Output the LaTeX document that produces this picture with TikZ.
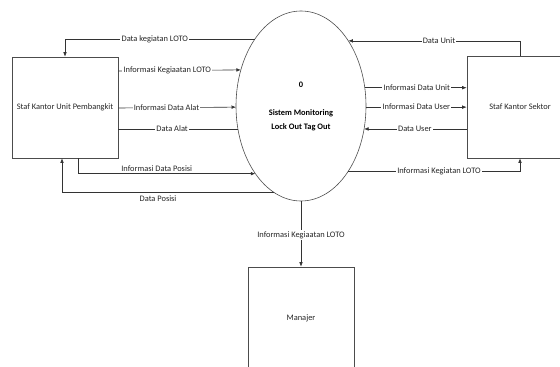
\documentclass[tikz,border=0pt]{standalone}
\usepackage{fontspec}
\setmainfont{Carlito}
\usetikzlibrary{shapes.geometric,arrows.meta}
\begin{document}
\begin{tikzpicture}[x=1pt,y=-1pt,
  ln/.style={draw=black!80, line width=0.6pt},
  arr/.style={ln, -{Latex[length=4.5pt,width=3.6pt]}},
  lbl/.style={fill=white, inner sep=1.2pt, text=black!85, font=\fontsize{8.4}{10}\selectfont},
  boxs/.style={draw=black!70, line width=0.6pt, inner sep=0pt, text=black!85, font=\fontsize{8.4}{10}\selectfont}]
\useasboundingbox (0,0) rectangle (560,367);
\node[boxs, minimum width=106pt, minimum height=101pt] (L) at (65,107.5) {Staf Kantor Unit Pembangkit};
\node[boxs, minimum width=106pt, minimum height=102pt] (R) at (520,107) {Staf Kantor Sektor};
\node[boxs, minimum width=106pt, minimum height=102pt] (M) at (301,318) {Manajer};
\node[ellipse, draw=black!70, line width=0.6pt, minimum width=130pt, minimum height=190pt, inner sep=0pt, outer sep=0pt, align=center, text=black, font=\bfseries\fontsize{8.4}{14}\selectfont] (E) at (301,106) {0\\[14pt]Sistem Monitoring\\Lock Out Tag Out};
% left side
\draw[arr] (E.125.05) -| node[lbl, pos=0.263] {Data kegiatan LOTO} (L.north);
\draw[arr] (L.east |- 0,71) -- node[lbl, pos=0.40] {Informasi Kegiaatan LOTO} (E.149.87);
\draw[arr] (L.east |- 0,108) -- node[lbl, pos=0.41] {Informasi Data Alat} (E.181.76);
\draw[ln] (E.200.06) -- node[lbl, pos=0.55] {Data Alat} (L.east |- E.200.06);
\draw[arr] ([xshift=13pt]L.south) |- node[lbl, fill=none, pos=0.722, above=1pt] {Informasi Data Posisi} (E.236.56);
\draw[arr] (E.253) -| node[lbl, fill=none, pos=0.274, below=1.5pt] {Data Posisi} ([xshift=-3pt]L.south);
% right side
\draw[arr] (R.north) |- node[lbl, pos=0.736] {Data Unit} (E.54.95);
\draw[arr] (E.16.63) -- node[lbl, pos=0.51] {Informasi Data Unit} (R.west |- E.16.63);
\draw[arr] (E.-1.76) -- node[lbl, pos=0.5] {Informasi Data User} (R.west |- E.-1.76);
\draw[arr] (R.west |- E.-20.06) -- node[lbl, pos=0.505] {Data User} (E.-20.06);
\draw[arr] (E.-54.95) -| node[lbl, pos=0.264] {Informasi Kegiatan LOTO} (R.south);
% bottom
\draw[arr] (E.south) -- node[lbl, pos=0.515] {Informasi Kegiaatan LOTO} (M.north);
\end{tikzpicture}
\end{document}
